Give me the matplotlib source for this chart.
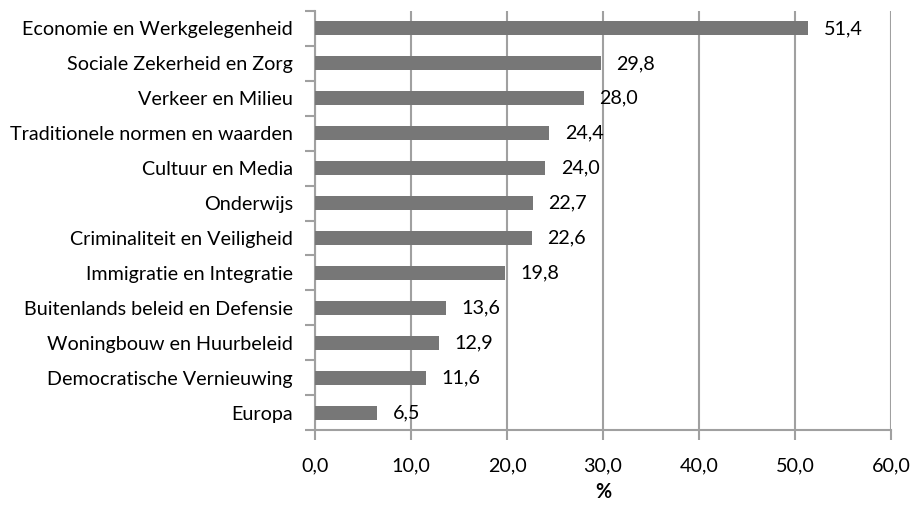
import matplotlib.pyplot as plt
import numpy as np

categories = ["Economie en Werkgelegenheid", "Sociale Zekerheid en Zorg", "Verkeer en Milieu",
              "Traditionele normen en waarden", "Cultuur en Media", "Onderwijs",
              "Criminaliteit en Veiligheid", "Immigratie en Integratie",
              "Buitenlands beleid en Defensie", "Woningbouw en Huurbeleid",
              "Democratische Vernieuwing", "Europa"]
values = [51.4, 29.8, 28.0, 24.4, 24.0, 22.7, 22.6, 19.8, 13.6, 12.9, 11.6, 6.5]
xticks = [0, 10, 20, 30, 40, 50, 60]

plt.rcParams['font.family'] = ['Lato', 'DejaVu Sans']
fs = 14.2
fig = plt.figure(figsize=(9.12, 5.25), dpi=100)
ax = fig.add_axes([0.3454, 0.181, 0.977 - 0.3454, 0.979 - 0.181])

grey = '#a0a0a0'
y = np.arange(len(categories))
ax.barh(y, values, height=0.4, color='#777777', zorder=3)
for yi, v in zip(y, values):
    ax.text(v + 1.6, yi, f"{v:.1f}".replace('.', ','), va='center', ha='left',
            fontsize=fs, color='black', zorder=4)

ax.set_ylim(len(categories) - 0.5, -0.5)
ax.set_xlim(0, 60)
ax.set_yticks(y)
ax.set_yticklabels(categories, fontsize=fs)
ax.set_yticks(np.arange(len(categories) + 1) - 0.5, minor=True)
ax.tick_params(axis='y', which='major', length=0, pad=16)
ax.tick_params(axis='y', which='minor', length=7, color=grey, width=1.5, direction='out')
ax.set_xticks(xticks)
ax.set_xticklabels([f"{t:.1f}".replace('.', ',') for t in xticks], fontsize=fs)
ax.tick_params(axis='x', length=7, color=grey, width=1.5, pad=13)
ax.grid(axis='x', color=grey, linewidth=1.5, zorder=0)
for s in ['top', 'right']:
    ax.spines[s].set_visible(False)
for s in ['left', 'bottom']:
    ax.spines[s].set_color(grey)
    ax.spines[s].set_linewidth(1.5)
ax.set_xlabel('%', fontsize=fs, fontweight='bold', labelpad=5)

fig.savefig('out.png', dpi=100)
